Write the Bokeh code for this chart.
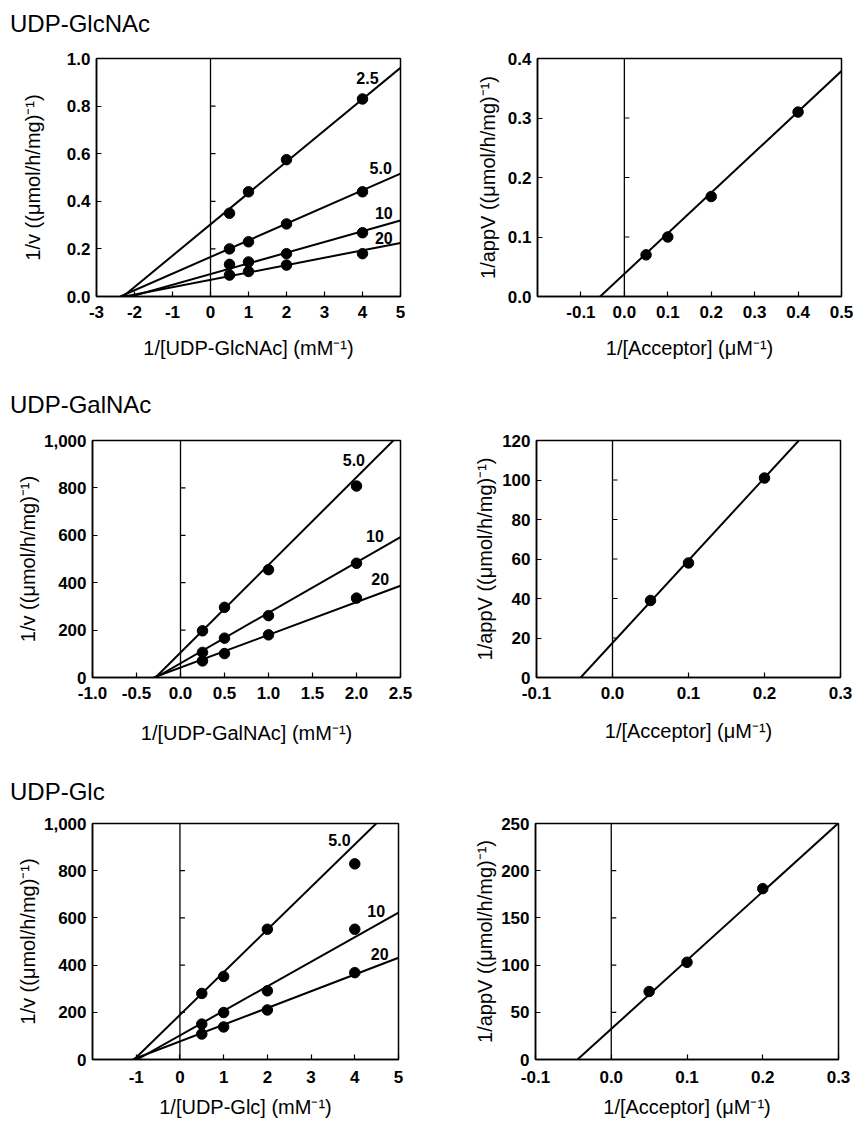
from bokeh.plotting import figure
from bokeh.layouts import column, row
from bokeh.models import Span, NumeralTickFormatter, Range1d, Div
from bokeh.embed import file_html
from bokeh.resources import INLINE
from bokeh.core.properties import value

FONT = "Liberation Sans"

# ---------------- data ----------------
# Row 1: UDP-GlcNAc
glcnac_x = [0.5, 1, 2, 4]
glcnac_series = ["2.5", "5.0", "10", "20"]
glcnac_y_25 = [0.35, 0.44, 0.575, 0.83]
glcnac_y_50 = [0.20, 0.23, 0.305, 0.44]
glcnac_y_10 = [0.135, 0.145, 0.18, 0.268]
glcnac_y_20 = [0.09, 0.105, 0.132, 0.18]
glcnac_slope = [0.1316, 0.070, 0.045, 0.031]
glcnac_icept = [0.303, 0.166, 0.094, 0.070]

acc1_x = [0.05, 0.1, 0.2, 0.4]
acc1_y = [0.07, 0.10, 0.168, 0.31]
acc1_slope = [0.682]
acc1_icept = [0.038]

# Row 2: UDP-GalNAc
galnac_x = [0.25, 0.5, 1, 2]
galnac_series = ["5.0", "10", "20"]
galnac_y_50 = [197, 296, 455, 808]
galnac_y_10 = [106, 166, 261, 482]
galnac_y_20 = [70, 101, 180, 335]
galnac_slope = [370, 213, 138]
galnac_icept = [105, 60, 42]

acc2_x = [0.05, 0.1, 0.2]
acc2_y = [39, 58, 101]
acc2_slope = [418]
acc2_icept = [17.5]

# Row 3: UDP-Glc
glc_x = [0.5, 1, 2, 4]
glc_series = ["5.0", "10", "20"]
glc_y_50 = [280, 352, 552, 829]
glc_y_10 = [150, 199, 291, 552]
glc_y_20 = [108, 138, 210, 368]
glc_slope = [180.6, 104, 70.9]
glc_icept = [189, 102, 76.6]

acc3_x = [0.05, 0.1, 0.2]
acc3_y = [72, 103, 181]
acc3_slope = [727]
acc3_icept = [32.4]

titles = ["UDP-GlcNAc", "UDP-GalNAc", "UDP-Glc"]


def make_panel(width, height, borders, xr, yr, xticks, yticks, xfmt, yfmt,
               xlabel, ylabel, xl_stand, yl_stand, xt_stand=9):
    bl, br, bt, bb = borders
    p = figure(width=width, height=height, x_range=Range1d(*xr), y_range=Range1d(*yr),
               output_backend="svg", toolbar_location=None,
               min_border_left=bl, min_border_right=br,
               min_border_top=bt, min_border_bottom=bb,
               background_fill_color="white", border_fill_color="white")
    p.grid.visible = False
    p.outline_line_color = "black"
    p.outline_line_width = 1.5
    p.xaxis.ticker = xticks
    p.yaxis.ticker = yticks
    p.xaxis.formatter = NumeralTickFormatter(format=xfmt)
    p.yaxis.formatter = NumeralTickFormatter(format=yfmt)
    for ax in (p.xaxis[0], p.yaxis[0]):
        ax.major_tick_in = 5
        ax.major_tick_out = 0
        ax.minor_tick_in = 0
        ax.minor_tick_out = 0
        ax.axis_line_width = 1.5
        ax.axis_line_color = "black"
        ax.major_tick_line_width = 1.2
        ax.major_label_text_font = FONT
        ax.major_label_text_font_style = "bold"
        ax.major_label_text_font_size = "17px"
        ax.major_label_text_color = "black"
        ax.axis_label_text_font = FONT
        ax.axis_label_text_font_style = "normal"
        ax.axis_label_text_font_size = "20px"
        ax.axis_label_text_color = "black"
    p.xaxis.major_label_standoff = xt_stand
    p.yaxis.major_label_standoff = 6
    p.xaxis.axis_label = xlabel
    p.yaxis.axis_label = ylabel
    p.xaxis.axis_label_standoff = xl_stand
    p.yaxis.axis_label_standoff = yl_stand
    p.add_layout(Span(location=0, dimension="height", line_color="black", line_width=1.3))
    # small ticks on the zero line
    tl = 5 * (xr[1] - xr[0]) / (width - bl - br)
    yt = [t for t in yticks if yr[0] < t < yr[1]]
    p.segment(x0=[0] * len(yt), y0=yt, x1=[tl] * len(yt), y1=yt, line_color="black", line_width=1.2)
    return p


def make_title(text, top):
    html = ('<div style="font-family:\'Liberation Sans\',Arial,sans-serif;font-size:24px;'
            'line-height:28px;color:black;white-space:nowrap;margin:0;padding:0">%s</div>' % text)
    return Div(text=html, width=400, height=28, margin=(top, 0, 0, 10))


def add_lines(p, xr, slopes, icepts):
    for s, b in zip(slopes, icepts):
        x0 = -b / s
        p.line(x=[x0, xr[1]], y=[0, b + s * xr[1]], line_color="black", line_width=2)


def add_points(p, xs, ys):
    p.scatter(x=xs, y=ys, size=10.5, marker="circle", fill_color="black", line_color="black")


def add_series_labels(p, xs, ys, labels):
    p.text(x=xs, y=ys, text=labels, text_font=value(FONT), text_font_size="16px",
           text_font_style="bold", text_align="center", text_baseline="middle", text_color="black")


YL_V = "1/v ((μmol/h/mg)⁻¹)"
YL_A = "1/appV ((μmol/h/mg)⁻¹)"
XL_A = "1/[Acceptor] (μM⁻¹)"

# ---------- Row 1 ----------
xr1 = (-3, 5); yr1 = (0, 1.0)
p1 = make_panel(430, 330, (96, 30, 20, 72), xr1, yr1, list(range(-3, 6)),
                [0, 0.2, 0.4, 0.6, 0.8, 1.0], "0", "0.0",
                "1/[UDP-GlcNAc] (mM⁻¹)", YL_V, 16, 20)
add_lines(p1, xr1, glcnac_slope, glcnac_icept)
for ys in (glcnac_y_25, glcnac_y_50, glcnac_y_10, glcnac_y_20):
    add_points(p1, glcnac_x, ys)
add_series_labels(p1, [4.13, 4.48, 4.56, 4.56], [0.92, 0.54, 0.35, 0.245], glcnac_series)

xr2 = (-0.2, 0.5); yr2 = (0, 0.4)
p2 = make_panel(424, 330, (107, 13, 20, 72), xr2, yr2, [-0.1, 0, 0.1, 0.2, 0.3, 0.4, 0.5],
                [0, 0.1, 0.2, 0.3, 0.4], "0.0", "0.0", XL_A, YL_A, 16, 6)
add_lines(p2, xr2, acc1_slope, acc1_icept)
add_points(p2, acc1_x, acc1_y)

# ---------- Row 2 ----------
xr3 = (-1.0, 2.5); yr3 = (0, 1000)
p3 = make_panel(430, 329, (92, 30, 21, 71), xr3, yr3, [-1.0, -0.5, 0, 0.5, 1.0, 1.5, 2.0, 2.5],
                [0, 200, 400, 600, 800, 1000], "0.0", "0,0",
                "1/[UDP-GalNAc] (mM⁻¹)", YL_V, 20, 2)
add_lines(p3, xr3, galnac_slope, galnac_icept)
for ys in (galnac_y_50, galnac_y_10, galnac_y_20):
    add_points(p3, galnac_x, ys)
add_series_labels(p3, [1.97, 2.21, 2.27], [918, 598, 415], galnac_series)

xr4 = (-0.1, 0.3); yr4 = (0, 120)
p4 = make_panel(424, 329, (106, 14, 21, 71), xr4, yr4, [-0.1, 0, 0.1, 0.2, 0.3],
                [0, 20, 40, 60, 80, 100, 120], "0.0", "0", XL_A, YL_A, 18, 3)
add_lines(p4, xr4, acc2_slope, acc2_icept)
add_points(p4, acc2_x, acc2_y)

# ---------- Row 3 ----------
xr5 = (-2, 5); yr5 = (0, 1000)
p5 = make_panel(430, 314, (92, 32, 17, 58), xr5, yr5, [-1, 0, 1, 2, 3, 4, 5],
                [0, 200, 400, 600, 800, 1000], "0", "0,0",
                "1/[UDP-Glc] (mM⁻¹)", YL_V, 10, 2, xt_stand=11)
add_lines(p5, xr5, glc_slope, glc_icept)
for ys in (glc_y_50, glc_y_10, glc_y_20):
    add_points(p5, glc_x, ys)
add_series_labels(p5, [3.65, 4.49, 4.57], [930, 629, 448], glc_series)

xr6 = (-0.1, 0.3); yr6 = (0, 250)
p6 = make_panel(424, 314, (105, 16, 17, 58), xr6, yr6, [-0.1, 0, 0.1, 0.2, 0.3],
                [0, 50, 100, 150, 200, 250], "0.0", "0", XL_A, YL_A, 10, 2, xt_stand=11)
add_lines(p6, xr6, acc3_slope, acc3_icept)
add_points(p6, acc3_x, acc3_y)

layout = column(make_title(titles[0], 10), row(p1, p2),
                make_title(titles[1], 23), row(p3, p4),
                make_title(titles[2], 30), row(p5, p6))
open("out.html", "w").write(file_html(layout, INLINE))
